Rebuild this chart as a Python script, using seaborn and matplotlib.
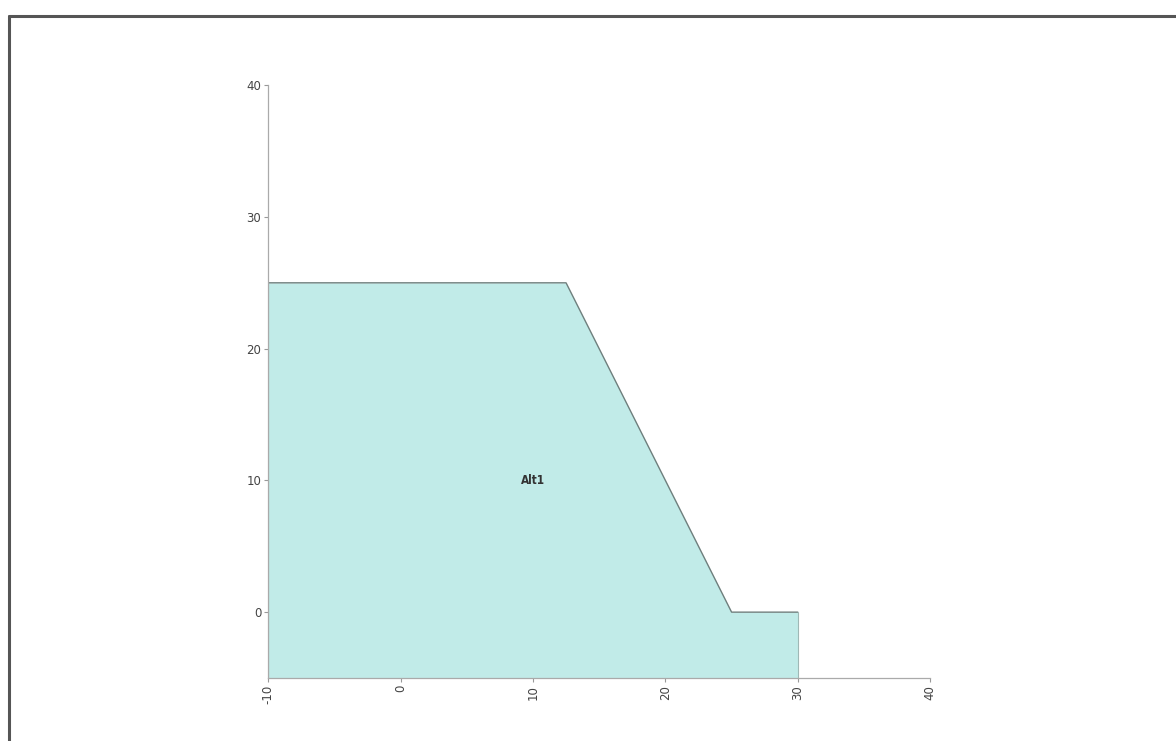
import matplotlib
matplotlib.use("Agg")
import matplotlib.pyplot as plt
from matplotlib.lines import Line2D
import pandas as pd
import seaborn as sns

# boundary of the Alt1 region
edge_x = [-10, 12.5, 25, 30]
edge_y = [25, 25, 0, 0]
base_y = -5
label_text = "Alt1"
label_pos = (10, 10)

x_ticks = [-10, 0, 10, 20, 30, 40]
y_ticks = [0, 10, 20, 30, 40]

df = pd.DataFrame({"x": edge_x, "y": edge_y})

sns.set_theme(style="white")
plt.rcParams["font.family"] = ["DejaVu Sans"]

fig = plt.figure(figsize=(11.76, 7.41), dpi=100)
ax = fig.add_axes([0.228, 0.085, 0.563, 0.8])

ax.fill_between(df["x"], df["y"], base_y, color="#c1ebe8", linewidth=0)
sns.lineplot(data=df, x="x", y="y", ax=ax, color="#6f7f7d", linewidth=1.0,
             sort=False, estimator=None)
ax.plot([edge_x[-1], edge_x[-1]], [edge_y[-1], base_y], color="#9fb8b5", lw=0.8)
ax.plot([edge_x[0], edge_x[0]], [edge_y[0], base_y], color="#9fb8b5", lw=0.8)

ax.text(*label_pos, label_text, ha="center", va="center", fontsize=8.5,
        color="#333333", fontweight="bold", fontstretch="condensed")

ax.set_xlim(-10, 40)
ax.set_ylim(base_y, 40)
ax.set_xticks(x_ticks)
ax.set_yticks(y_ticks)
ax.set_xticklabels([str(t) for t in x_ticks], rotation=90)
ax.tick_params(axis="both", labelsize=8.5, labelcolor="#444444", length=3,
               width=0.8, color="#999999", direction="out", pad=2,
               bottom=True, left=True)
ax.set_xlabel("")
ax.set_ylabel("")
for side in ["top", "right"]:
    ax.spines[side].set_visible(False)
for side in ["left", "bottom"]:
    ax.spines[side].set_color("#aaaaaa")
    ax.spines[side].set_linewidth(0.9)

# scanned page frame
fig.add_artist(Line2D([0.008, 1.0], [1 - 16 / 741, 1 - 16 / 741],
                      transform=fig.transFigure, color="#555555", lw=2.2))
fig.add_artist(Line2D([9 / 1176, 9 / 1176], [0.0, 1 - 16 / 741],
                      transform=fig.transFigure, color="#555555", lw=2.2))

fig.savefig("out.png", dpi=100, facecolor="white")
